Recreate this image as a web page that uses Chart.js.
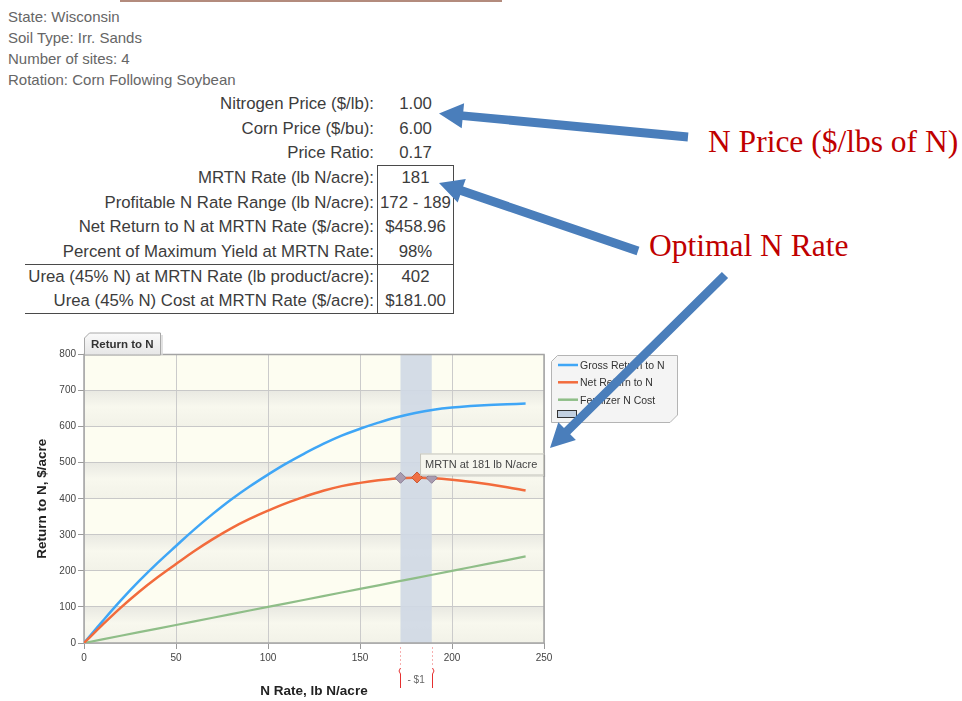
<!DOCTYPE html>
<html lang="en">
<head>
<meta charset="UTF-8">
<title>Return to N - MRTN</title>
<style>
  body { margin: 0; background: #fff; font-family: 'Liberation Sans', Arial, sans-serif; }
  #page { position: relative; width: 962px; height: 701px; overflow: hidden; }
  .topline { position: absolute; left: 120px; top: 0; width: 382px; height: 2px; background: #b38b7d; }
  .info { position: absolute; left: 8px; top: 6.3px; font-size: 15px; line-height: 21px; color: #666; white-space: nowrap; }
  .row { position: absolute; left: 0; width: 460px; height: 24.7px; line-height: 24.7px; font-size: 16.8px; color: #3c3c3c; }
  .row .lbl { position: absolute; left: 0; width: 374px; text-align: right; white-space: nowrap; }
  .row .val { position: absolute; left: 378px; width: 75px; text-align: center; white-space: nowrap; }
  .rule { position: absolute; background: #4a4a4a; }
  .note { position: absolute; font-family: 'Liberation Serif', 'Times New Roman', serif; font-size: 31.5px; line-height: 32px; color: #c00000; white-space: nowrap; }
  #chartBox { position: absolute; left: 0; top: 330px; width: 700px; height: 371px; }
  #legend { position: absolute; left: 0; top: 0; z-index: 5; }
  #arrows { position: absolute; left: 0; top: 0; z-index: 10; pointer-events: none; }
</style>
</head>
<body>
<div id="page">
  <div class="topline"></div>
  <div class="info">State: Wisconsin<br>Soil Type: Irr. Sands<br>Number of sites: 4<br>Rotation: Corn Following Soybean</div>

  <div class="row" style="top:92px"><span class="lbl">Nitrogen Price ($/lb):</span><span class="val">1.00</span></div>
  <div class="row" style="top:116.7px"><span class="lbl">Corn Price ($/bu):</span><span class="val">6.00</span></div>
  <div class="row" style="top:141.4px"><span class="lbl">Price Ratio:</span><span class="val">0.17</span></div>
  <div class="row" style="top:166px"><span class="lbl">MRTN Rate (lb N/acre):</span><span class="val">181</span></div>
  <div class="row" style="top:190.7px"><span class="lbl">Profitable N Rate Range (lb N/acre):</span><span class="val">172 - 189</span></div>
  <div class="row" style="top:215.4px"><span class="lbl">Net Return to N at MRTN Rate ($/acre):</span><span class="val">$458.96</span></div>
  <div class="row" style="top:240px"><span class="lbl">Percent of Maximum Yield at MRTN Rate:</span><span class="val">98%</span></div>
  <div class="row" style="top:264.8px"><span class="lbl">Urea (45% N) at MRTN Rate (lb product/acre):</span><span class="val">402</span></div>
  <div class="row" style="top:289.4px"><span class="lbl">Urea (45% N) Cost at MRTN Rate ($/acre):</span><span class="val">$181.00</span></div>

  <div class="rule" style="left:377px;top:165px;width:77px;height:1px"></div>
  <div class="rule" style="left:377px;top:165px;width:1px;height:149px"></div>
  <div class="rule" style="left:453px;top:165px;width:1px;height:149px"></div>
  <div class="rule" style="left:25px;top:264px;width:429px;height:1px"></div>
  <div class="rule" style="left:25px;top:313px;width:429px;height:1px"></div>

  <div class="note" style="left:708px;top:126px">N Price ($/lbs of N)</div>
  <div class="note" style="left:649px;top:230px">Optimal N Rate</div>

  <div id="chartBox"><canvas id="chart" width="700" height="371"></canvas></div>
  <svg id="legend" width="962" height="701"></svg>
  <svg id="arrows" width="962" height="701"></svg>
</div>

<script src="https://cdn.jsdelivr.net/npm/chart.js"></script>
<script>
// values ($/acre at each N rate)
const nRates = [0, 10, 20, 30, 40, 50, 60, 70, 80, 90, 100, 110, 120, 130, 140, 150, 160, 170, 180, 190, 200, 210, 220, 230, 240];
const grossReturn = [0, 60, 118, 172, 222, 269, 315, 358, 398, 434, 467, 498, 526, 552, 575, 594, 611, 626, 638, 647, 653, 657, 660, 662, 664];
const netReturn = [0, 50, 98, 142, 182, 219, 255, 288, 318, 344, 367, 388, 406, 422, 435, 444, 451, 456, 458, 457, 453, 447, 440, 432, 423];
const fertCost = [0, 10, 20, 30, 40, 50, 60, 70, 80, 90, 100, 110, 120, 130, 140, 150, 160, 170, 180, 190, 200, 210, 220, 230, 240];

const seriesNames = ['Gross Return to N', 'Net Return to N', 'Fertilizer N Cost'];
const seriesColors = ['#3fa6f6', '#f26b3c', '#8fbe88'];

const markerRates = [172, 181, 189];
const markerReturns = [458, 459, 458];
const mrtnRate = 181;
const rangeLow = 172;
const rangeHigh = 189;

const xTicks = [0, 50, 100, 150, 200, 250];
const yTicks = [0, 100, 200, 300, 400, 500, 600, 700, 800];

const FONT = "'Liberation Sans', Arial, sans-serif";

function pts(ys) {
  return nRates.map((x, i) => ({ x: x, y: ys[i] }));
}

// plot background bands, profitable range shading, frame and notes
const decor = {
  id: 'decor',
  beforeDraw(chart) {
    const { ctx, chartArea: a, scales: { y } } = chart;
    ctx.save();
    ctx.fillStyle = '#fdfdf1';
    ctx.fillRect(a.left, a.top, a.width, a.height);
    for (let i = 0; i < yTicks.length - 1; i += 2) {
      const top = y.getPixelForValue(yTicks[i + 1]);
      const bot = y.getPixelForValue(yTicks[i]);
      const g = ctx.createLinearGradient(0, top, 0, bot);
      g.addColorStop(0, '#e9e9e2');
      g.addColorStop(0.45, '#f8f8ee');
      g.addColorStop(1, '#f2f2e8');
      ctx.fillStyle = g;
      ctx.fillRect(a.left, top, a.width, bot - top);
    }
    ctx.restore();
  },
  beforeDatasetsDraw(chart) {
    const { ctx, chartArea: a, scales: { x } } = chart;
    ctx.save();
    const l = x.getPixelForValue(rangeLow), r = x.getPixelForValue(rangeHigh);
    ctx.fillStyle = 'rgba(207,216,228,0.9)';
    ctx.fillRect(l, a.top, r - l, a.height);
    ctx.strokeStyle = '#a4a4a4';
    ctx.lineWidth = 1.5;
    ctx.strokeRect(a.left, a.top, a.width, a.height);
    ctx.restore();
  },
  afterDatasetsDraw(chart) {
    const { ctx, scales: { x, y } } = chart;
    const bx = x.getPixelForValue(mrtnRate) + 3;
    const by = y.getPixelForValue(markerReturns[1]) - 24;
    const bw = x.getPixelForValue(250) - bx;
    ctx.save();
    ctx.fillStyle = 'rgba(0,0,0,0.08)';
    ctx.fillRect(bx + 1.5, by + 1.5, bw, 22);
    ctx.fillStyle = '#f6f6ee';
    ctx.fillRect(bx, by, bw, 22);
    ctx.strokeStyle = '#c4c4bc';
    ctx.lineWidth = 1;
    ctx.strokeRect(bx + 0.5, by + 0.5, bw - 1, 21);
    ctx.fillStyle = '#444';
    ctx.font = '11px ' + FONT;
    ctx.textBaseline = 'middle';
    ctx.fillText('MRTN at ' + mrtnRate + ' lb N/acre', bx + 5, by + 11.5);
    ctx.restore();
  },
  afterDraw(chart) {
    const { ctx, chartArea: a, scales: { x } } = chart;
    ctx.save();
    [rangeLow, rangeHigh].forEach((v, k) => {
      const px = Math.round(x.getPixelForValue(v)) + 0.5;
      ctx.strokeStyle = 'rgba(235,80,80,0.45)';
      ctx.lineWidth = 1;
      ctx.setLineDash([2, 2]);
      ctx.beginPath();
      ctx.moveTo(px, a.bottom + 4);
      ctx.lineTo(px, a.bottom + 24);
      ctx.stroke();
      ctx.setLineDash([]);
      ctx.strokeStyle = '#e53030';
      const d = k === 0 ? -1.5 : 1.5;
      ctx.beginPath();
      ctx.moveTo(px, a.bottom + 25);
      ctx.lineTo(px + d, a.bottom + 28);
      ctx.lineTo(px, a.bottom + 31);
      ctx.lineTo(px, a.bottom + 45);
      ctx.stroke();
    });
    const mid = (x.getPixelForValue(rangeLow) + x.getPixelForValue(rangeHigh)) / 2;
    ctx.fillStyle = '#666';
    ctx.font = '10px ' + FONT;
    ctx.textAlign = 'center';
    ctx.textBaseline = 'middle';
    ctx.fillText('- $1', mid, a.bottom + 37);
    ctx.restore();
  }
};

new Chart(document.getElementById('chart'), {
  type: 'line',
  data: {
    datasets: [
      {
        label: 'MRTN',
        data: markerRates.map((x, i) => ({ x: x, y: markerReturns[i] })),
        showLine: false,
        pointStyle: 'rectRot',
        pointRadius: 5.5,
        pointBackgroundColor: ['#a99cb0', '#f07045', '#a99cb0'],
        pointBorderColor: ['#8c7f94', '#c85a35', '#8c7f94'],
        pointBorderWidth: 1,
        order: 0
      },
      {
        label: seriesNames[0],
        data: pts(grossReturn),
        borderColor: seriesColors[0],
        borderWidth: 2.5,
        pointRadius: 0,
        tension: 0.4,
        order: 2
      },
      {
        label: seriesNames[1],
        data: pts(netReturn),
        borderColor: seriesColors[1],
        borderWidth: 2.5,
        pointRadius: 0,
        tension: 0.4,
        order: 1
      },
      {
        label: seriesNames[2],
        data: pts(fertCost),
        borderColor: seriesColors[2],
        borderWidth: 2.2,
        pointRadius: 0,
        order: 3
      }
    ]
  },
  options: {
    responsive: false,
    animation: false,
    layout: { padding: { top: 24.5, right: 156, left: 0, bottom: 0 } },
    plugins: {
      legend: { display: false },
      tooltip: { enabled: false }
    },
    scales: {
      x: {
        type: 'linear',
        min: 0,
        max: 250,
        afterBuildTicks: s => { s.ticks = xTicks.map(v => ({ value: v })); },
        afterFit: s => { s.height = 58; },
        ticks: { font: { family: FONT, size: 10 }, color: '#444', padding: 3, maxRotation: 0 },
        grid: { color: '#cbcbcb', tickLength: 6, tickColor: '#999' },
        border: { display: false },
        title: {
          display: true,
          text: 'N Rate, lb N/acre',
          font: { family: FONT, size: 13.5, weight: 'bold' },
          color: '#222',
          padding: { top: 0, bottom: 2 }
        }
      },
      y: {
        min: 0,
        max: 800,
        afterBuildTicks: s => { s.ticks = yTicks.map(v => ({ value: v })); },
        afterFit: s => { s.width = 84; },
        ticks: { font: { family: FONT, size: 10 }, color: '#444', padding: 2 },
        grid: { color: '#c8c8c8', tickLength: 6, tickColor: '#999' },
        border: { display: false },
        title: {
          display: true,
          text: 'Return to N, $/acre',
          font: { family: FONT, size: 13.5, weight: 'bold' },
          color: '#222',
          padding: { top: 34, bottom: 0 }
        }
      }
    }
  },
  plugins: [decor]
});

// legend box and the "Return to N" tab
const NS = 'http://www.w3.org/2000/svg';
function el(parent, tag, attrs, text) {
  const e = document.createElementNS(NS, tag);
  for (const k in attrs) e.setAttribute(k, attrs[k]);
  if (text) e.textContent = text;
  parent.appendChild(e);
  return e;
}

const leg = document.getElementById('legend');
const defs = el(leg, 'defs', {});
const tabGrad = el(defs, 'linearGradient', { id: 'tabg', x1: 0, y1: 0, x2: 0, y2: 1 });
el(tabGrad, 'stop', { offset: '0', 'stop-color': '#fafafa' });
el(tabGrad, 'stop', { offset: '1', 'stop-color': '#e6e6e6' });
el(leg, 'polygon', { points: '84.5,355 84.5,338 89.5,333 160.5,333 160.5,355', fill: 'url(#tabg)', stroke: '#a8a8a8', 'stroke-width': 1 });
el(leg, 'line', { x1: 162, y1: 335, x2: 162, y2: 355, stroke: '#d8d8d8', 'stroke-width': 1.5 });
el(leg, 'text', { x: 91, y: 348, 'font-family': FONT, 'font-size': 11.5, 'font-weight': 'bold', fill: '#333' }, 'Return to N');

el(leg, 'polygon', { points: '557.5,355.5 677.5,355.5 677.5,415 670,422.5 551.5,422.5 551.5,361.5', fill: '#f4f4f4', stroke: '#b4b4b4', 'stroke-width': 1 });
const rowY = [365, 382.3, 399.7];
seriesNames.forEach((name, i) => {
  el(leg, 'line', { x1: 558, y1: rowY[i], x2: 578, y2: rowY[i], stroke: seriesColors[i], 'stroke-width': 2.5 });
  el(leg, 'text', { x: 580, y: rowY[i] + 3.8, 'font-family': FONT, 'font-size': 10.5, fill: '#333' }, name);
});
el(leg, 'rect', { x: 557.5, y: 410.5, width: 19, height: 7, fill: '#c3d0e0', stroke: '#333', 'stroke-width': 1 });

// blue call-out arrows
const arrowSpecs = [
  { tip: [439, 113.5], tail: [688, 137] },
  { tip: [439, 183], tail: [638, 251] },
  { tip: [550, 448], tail: [725, 275] }
];
function arrowPoints(t, s) {
  const len = Math.hypot(t[0] - s[0], t[1] - s[1]);
  const ux = (t[0] - s[0]) / len, uy = (t[1] - s[1]) / len;
  const nx = -uy, ny = ux;
  const bx = t[0] - ux * 24, by = t[1] - uy * 24;
  const w = 4.4, h = 12.5;
  return [
    [s[0] + nx * w, s[1] + ny * w], [bx + nx * w, by + ny * w], [bx + nx * h, by + ny * h],
    t, [bx - nx * h, by - ny * h], [bx - nx * w, by - ny * w], [s[0] - nx * w, s[1] - ny * w]
  ].map(p => p[0].toFixed(1) + ',' + p[1].toFixed(1)).join(' ');
}
const arr = document.getElementById('arrows');
arrowSpecs.forEach(a => el(arr, 'polygon', { points: arrowPoints(a.tip, a.tail), fill: '#4a7ebb' }));
</script>
</body>
</html>
